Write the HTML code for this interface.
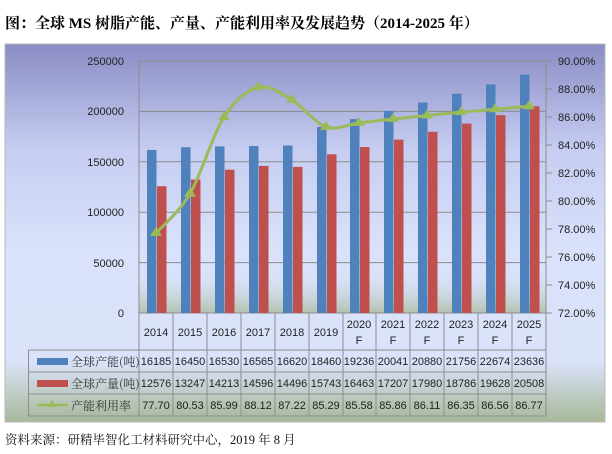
<!DOCTYPE html>
<html><head><meta charset="utf-8"><style>
html,body{margin:0;padding:0;background:#fff;width:612px;height:454px;overflow:hidden}
svg{display:block}
</style></head><body>
<svg width="612" height="454" xmlns="http://www.w3.org/2000/svg" font-family="Liberation Sans, Noto Sans CJK SC, sans-serif">
<defs>
<linearGradient id="bg" x1="0" y1="0" x2="0" y2="1">
<stop offset="0" stop-color="#8a8cc4"/>
<stop offset="0.28" stop-color="#c6cdf1"/>
<stop offset="0.55" stop-color="#dae2fb"/>
<stop offset="0.84" stop-color="#dbe3fa"/>
<stop offset="1" stop-color="#a7b898"/>
</linearGradient>
<linearGradient id="pl" x1="0" y1="0" x2="0" y2="1">
<stop offset="0" stop-color="#dae2fb" stop-opacity="0"/>
<stop offset="0.6" stop-color="#dae2fb" stop-opacity="0"/>
<stop offset="1" stop-color="#b3c1ad"/>
</linearGradient>
</defs>
<text x="5" y="28" font-family="Liberation Serif, Noto Serif CJK SC, serif" font-weight="bold" font-size="15">图：全球 MS 树脂产能、产量、产能利用率及发展趋势（2014-2025 年）</text>
<rect x="5" y="44" width="600" height="378" fill="url(#bg)" stroke="#b8b8b8"/>
<rect x="139" y="200" width="407" height="113" fill="url(#pl)"/>
<g stroke="#8c8c8c" stroke-width="1">
<line x1="139" y1="61" x2="546" y2="61"/><line x1="139" y1="111.4" x2="546" y2="111.4"/>
<line x1="139" y1="161.8" x2="546" y2="161.8"/><line x1="139" y1="212.2" x2="546" y2="212.2"/>
<line x1="139" y1="262.6" x2="546" y2="262.6"/><line x1="139" y1="313" x2="546" y2="313"/>
<line x1="139" y1="61" x2="139" y2="416"/><line x1="546" y1="61" x2="546" y2="416"/>
<line x1="546" y1="61" x2="552" y2="61"/><line x1="546" y1="89" x2="552" y2="89"/><line x1="546" y1="117" x2="552" y2="117"/><line x1="546" y1="145" x2="552" y2="145"/><line x1="546" y1="173" x2="552" y2="173"/><line x1="546" y1="201" x2="552" y2="201"/><line x1="546" y1="229" x2="552" y2="229"/><line x1="546" y1="257" x2="552" y2="257"/><line x1="546" y1="285" x2="552" y2="285"/><line x1="546" y1="313" x2="552" y2="313"/>
</g>
<g font-size="11" fill="#222" text-anchor="end">
<text x="124" y="65">250000</text><text x="124" y="115">200000</text><text x="124" y="166">150000</text><text x="124" y="216">100000</text><text x="124" y="267">50000</text><text x="124" y="317">0</text>
</g>
<g font-size="11" fill="#222">
<text x="558" y="65">90.00%</text><text x="558" y="93">88.00%</text><text x="558" y="121">86.00%</text><text x="558" y="149">84.00%</text><text x="558" y="177">82.00%</text><text x="558" y="205">80.00%</text><text x="558" y="233">78.00%</text><text x="558" y="261">76.00%</text><text x="558" y="289">74.00%</text><text x="558" y="317">72.00%</text>
</g>
<g fill="#4f81bd">
<rect x="147" y="149.9" width="9.5" height="163.1"/><rect x="181" y="147.2" width="9.5" height="165.8"/><rect x="215" y="146.4" width="9.5" height="166.6"/><rect x="249" y="146" width="9.5" height="167"/><rect x="283" y="145.5" width="9.5" height="167.5"/><rect x="317" y="126.9" width="9.5" height="186.1"/><rect x="350" y="119.1" width="9.5" height="193.9"/><rect x="384" y="111" width="9.5" height="202"/><rect x="418" y="102.5" width="9.5" height="210.5"/><rect x="452" y="93.7" width="9.5" height="219.3"/><rect x="486" y="84.4" width="9.5" height="228.6"/><rect x="520" y="74.7" width="9.5" height="238.3"/>
</g>
<g fill="#c0504d">
<rect x="157" y="186.2" width="9.5" height="126.8"/><rect x="191" y="179.5" width="9.5" height="133.5"/><rect x="225" y="169.7" width="9.5" height="143.3"/><rect x="259" y="165.9" width="9.5" height="147.1"/><rect x="293" y="166.9" width="9.5" height="146.1"/><rect x="327" y="154.3" width="9.5" height="158.7"/><rect x="360" y="147" width="9.5" height="166"/><rect x="394" y="139.6" width="9.5" height="173.4"/><rect x="428" y="131.8" width="9.5" height="181.2"/><rect x="462" y="123.6" width="9.5" height="189.4"/><rect x="496" y="115.2" width="9.5" height="197.8"/><rect x="530" y="106.3" width="9.5" height="206.7"/>
</g>
<path d="M156,233.2 C161.7,226.6 178.7,213 190,193.6 C201.3,174.3 212.7,134.8 224,117.1 C235.3,99.4 246.7,90.2 258,87.3 C269.3,84.4 280.7,93.3 292,99.9 C303.3,106.5 314.8,123.1 326,126.9 C337.2,130.7 347.8,124.2 359,122.9 L393,119 L427,115.5 L461,112.1 L495,109.2 L529,106.2" fill="none" stroke="#9bbb59" stroke-width="3"/>
<g fill="#9bbb59">
<path d="M156,227 l6,9 h-12z"/><path d="M190,187.6 l6,9 h-12z"/><path d="M224,111.1 l6,9 h-12z"/><path d="M258,81.3 l6,9 h-12z"/><path d="M292,93.9 l6,9 h-12z"/><path d="M326,120.9 l6,9 h-12z"/><path d="M359,116.9 l6,9 h-12z"/><path d="M393,113 l6,9 h-12z"/><path d="M427,109.5 l6,9 h-12z"/><path d="M461,106.1 l6,9 h-12z"/><path d="M495,103.2 l6,9 h-12z"/><path d="M529,100.2 l6,9 h-12z"/>
</g>
<g stroke="#8e8e8e" stroke-width="1" fill="none">
<line x1="28.5" y1="350" x2="546" y2="350"/><line x1="28.5" y1="372" x2="546" y2="372"/><line x1="28.5" y1="394" x2="546" y2="394"/><line x1="28.5" y1="416" x2="546" y2="416"/>
<line x1="28.5" y1="350" x2="28.5" y2="416"/>
<line x1="173" y1="313" x2="173" y2="416"/><line x1="207" y1="313" x2="207" y2="416"/><line x1="241" y1="313" x2="241" y2="416"/><line x1="275" y1="313" x2="275" y2="416"/><line x1="309" y1="313" x2="309" y2="416"/><line x1="343" y1="313" x2="343" y2="416"/><line x1="376" y1="313" x2="376" y2="416"/><line x1="410" y1="313" x2="410" y2="416"/><line x1="444" y1="313" x2="444" y2="416"/><line x1="478" y1="313" x2="478" y2="416"/><line x1="512" y1="313" x2="512" y2="416"/>
</g>
<g font-size="11" fill="#222" text-anchor="middle">
<text x="156" y="336">2014</text><text x="190" y="336">2015</text><text x="224" y="336">2016</text><text x="258" y="336">2017</text><text x="292" y="336">2018</text><text x="326" y="336">2019</text>
<text x="359" y="328">2020</text><text x="359" y="344">F</text><text x="393" y="328">2021</text><text x="393" y="344">F</text><text x="427" y="328">2022</text><text x="427" y="344">F</text><text x="461" y="328">2023</text><text x="461" y="344">F</text><text x="495" y="328">2024</text><text x="495" y="344">F</text><text x="529" y="328">2025</text><text x="529" y="344">F</text>
</g>
<g font-size="11" fill="#222" text-anchor="middle" textLength="33">
<text x="156" y="365">16185</text><text x="190" y="365">16450</text><text x="224" y="365">16530</text><text x="258" y="365">16565</text><text x="292" y="365">16620</text><text x="326" y="365">18460</text><text x="359" y="365">19236</text><text x="393" y="365">20041</text><text x="427" y="365">20880</text><text x="461" y="365">21756</text><text x="495" y="365">22674</text><text x="529" y="365">23636</text>
<text x="156" y="387">12576</text><text x="190" y="387">13247</text><text x="224" y="387">14213</text><text x="258" y="387">14596</text><text x="292" y="387">14496</text><text x="326" y="387">15743</text><text x="359" y="387">16463</text><text x="393" y="387">17207</text><text x="427" y="387">17980</text><text x="461" y="387">18786</text><text x="495" y="387">19628</text><text x="529" y="387">20508</text>
<text x="156" y="409">77.70</text><text x="190" y="409">80.53</text><text x="224" y="409">85.99</text><text x="258" y="409">88.12</text><text x="292" y="409">87.22</text><text x="326" y="409">85.29</text><text x="359" y="409">85.58</text><text x="393" y="409">85.86</text><text x="427" y="409">86.11</text><text x="461" y="409">86.35</text><text x="495" y="409">86.56</text><text x="529" y="409">86.77</text>
</g>
<rect x="37" y="358" width="31" height="7" fill="#4f81bd"/>
<rect x="37" y="380" width="31" height="7" fill="#c0504d"/>
<line x1="37" y1="405" x2="68" y2="405" stroke="#9bbb59" stroke-width="2.5"/>
<path d="M52,400 l5,7 h-10z" fill="#9bbb59"/>
<g font-size="12" fill="#333" font-family="Noto Serif CJK SC, serif">
<text x="71" y="366">全球产能(吨)</text><text x="71" y="388">全球产量(吨)</text><text x="71" y="410">产能利用率</text>
</g>
<text x="5" y="444" font-size="12.5" font-family="Liberation Serif, Noto Serif CJK SC, serif" fill="#111">资料来源：研精毕智化工材料研究中心，2019 年 8 月</text>
</svg>
</body></html>
